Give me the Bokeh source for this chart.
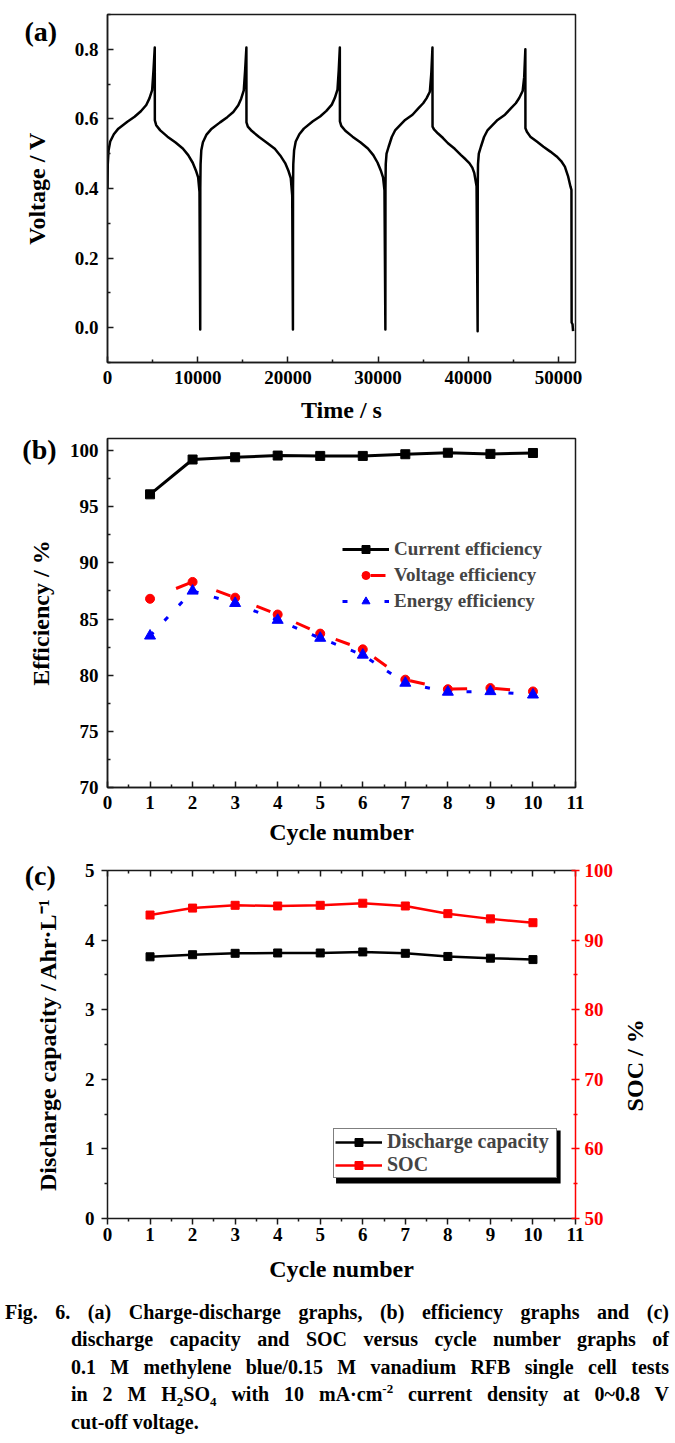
import math
from bokeh.plotting import figure
from bokeh.models import (Range1d, LinearAxis, FixedTicker, Legend, LegendItem, Label, Div,
                          CustomJSTickFormatter, PrintfTickFormatter, BoxAnnotation)
from bokeh.layouts import column
from bokeh.embed import file_html
from bokeh.resources import INLINE

FONT = "Liberation Serif"
AX = "#1a1a1a"

# ---------------- data ----------------
# (a) charge-discharge curve
time_s = [
    0, 30, 120, 300, 700, 1200, 2200, 3000, 3700, 4300, 4650, 4950, 5100, 5240,
    5250, 5400, 5850, 6650, 7550, 8350, 8950, 9450, 9800, 10050, 10200, 10280,
    10290, 10320, 10400, 10580, 10980, 11480, 12480, 13280, 13950, 14500, 14820, 15110, 15260, 15400,
    15410, 15560, 16010, 16810, 17710, 18550, 19150, 19700, 20060, 20320, 20480, 20560,
    20570, 20600, 20690, 20870, 21270, 21770, 22770, 23570, 24270, 24870, 25200, 25500, 25640, 25760,
    25770, 25920, 26370, 27170, 28070, 28870, 29470, 29950, 30300, 30550, 30710, 30810,
    30820, 30850, 30940, 31170, 31520, 31910, 33000, 33820, 34460, 35000, 35370, 35740, 35900, 36030,
    36040, 36200, 36650, 37200, 37750, 38500, 39200, 39700, 40120, 40450, 40670, 40920, 41040,
    41050, 41080, 41170, 41400, 41750, 42150, 43250, 44070, 44720, 45270, 45650, 46030, 46200, 46330,
    46340, 46500, 46880, 47600, 48340, 49100, 49800, 50300, 50710, 51080, 51330, 51440, 51460, 51560, 51620,
]
voltage_v = [
    0.40, 0.47, 0.51, 0.535, 0.556, 0.572, 0.592, 0.606, 0.622, 0.640, 0.659, 0.683, 0.74, 0.805,
    0.596, 0.582, 0.567, 0.549, 0.532, 0.515, 0.496, 0.474, 0.452, 0.432, 0.39, -0.005,
    0.40, 0.47, 0.51, 0.533, 0.555, 0.570, 0.590, 0.605, 0.620, 0.639, 0.658, 0.682, 0.74, 0.805,
    0.590, 0.578, 0.565, 0.548, 0.531, 0.514, 0.495, 0.473, 0.451, 0.43, 0.38, -0.005,
    0.40, 0.47, 0.51, 0.535, 0.556, 0.572, 0.593, 0.607, 0.623, 0.641, 0.660, 0.684, 0.74, 0.805,
    0.593, 0.580, 0.566, 0.549, 0.532, 0.515, 0.496, 0.474, 0.452, 0.432, 0.395, -0.005,
    0.40, 0.47, 0.50, 0.52, 0.548, 0.568, 0.597, 0.612, 0.630, 0.645, 0.659, 0.678, 0.73, 0.805,
    0.578, 0.570, 0.558, 0.545, 0.530, 0.514, 0.496, 0.484, 0.473, 0.460, 0.444, 0.406, -0.01,
    0.40, 0.47, 0.50, 0.52, 0.548, 0.568, 0.597, 0.612, 0.630, 0.645, 0.660, 0.680, 0.72, 0.80,
    0.573, 0.563, 0.549, 0.535, 0.520, 0.506, 0.492, 0.479, 0.463, 0.434, 0.406, 0.396, 0.015, 0.01, -0.01,
]

# (b) efficiencies
cycles = [1, 2, 3, 4, 5, 6, 7, 8, 9, 10]
current_eff = [96.1, 99.2, 99.4, 99.55, 99.52, 99.52, 99.67, 99.8, 99.7, 99.78]
voltage_eff = [86.8, 88.3, 86.9, 85.4, 83.7, 82.3, 79.6, 78.75, 78.85, 78.55]
energy_eff = [83.5, 87.5, 86.4, 84.9, 83.3, 81.8, 79.3, 78.5, 78.55, 78.25]

# (c) discharge capacity and SOC
discharge_capacity = [3.76, 3.79, 3.81, 3.815, 3.815, 3.83, 3.81, 3.765, 3.74, 3.72]
soc = [93.6, 94.6, 95.0, 94.9, 95.0, 95.3, 94.9, 93.8, 93.05, 92.5]

# ticks
time_ticks = [0, 10000, 20000, 30000, 40000, 50000]
time_minor = [5000, 15000, 25000, 35000, 45000]
volt_ticks = [0.0, 0.2, 0.4, 0.6, 0.8]
volt_minor = [-0.1, 0.1, 0.3, 0.5, 0.7, 0.9]
cycle_ticks = [0, 1, 2, 3, 4, 5, 6, 7, 8, 9, 10, 11]
cycle_minor = [0.5, 1.5, 2.5, 3.5, 4.5, 5.5, 6.5, 7.5, 8.5, 9.5, 10.5]
eff_ticks = [70, 75, 80, 85, 90, 95, 100]
eff_minor = [72.5, 77.5, 82.5, 87.5, 92.5, 97.5]
cap_ticks = [0, 1, 2, 3, 4, 5]
cap_minor = [0.5, 1.5, 2.5, 3.5, 4.5]
soc_ticks = [50, 60, 70, 80, 90, 100]
soc_minor = [55, 65, 75, 85, 95]

caption_lines = [
    "Fig. 6. (a) Charge-discharge graphs, (b) efficiency graphs and (c)",
    "discharge capacity and SOC versus cycle number graphs of",
    "0.1 M methylene blue/0.15 M vanadium RFB single cell tests",
    "in 2 M H<sub>2</sub>SO<sub>4</sub> with 10 mA&middot;cm<sup>-2</sup> current density at 0~0.8 V",
    "cut-off voltage.",
]

W = 667


def style(ax, color=AX, text_color="black"):
    ax.axis_line_color = color
    ax.axis_line_width = 1.5
    ax.major_tick_line_color = color
    ax.major_tick_line_width = 1.5
    ax.minor_tick_line_color = color
    ax.minor_tick_line_width = 1.5
    ax.major_label_text_font = FONT
    ax.major_label_text_font_style = "bold"
    ax.major_label_text_font_size = "19px"
    ax.major_label_text_color = text_color
    ax.axis_label_text_font = FONT
    ax.axis_label_text_font_style = "bold"
    ax.axis_label_text_font_size = "24px"
    ax.axis_label_text_color = "black"


def ticks(ax, tin, tout, mtin, mtout):
    ax.major_tick_in = tin
    ax.major_tick_out = tout
    ax.minor_tick_in = mtin
    ax.minor_tick_out = mtout


def panel_label(p, text, x, y, side):
    p.add_layout(Label(x=x, y=y, text=text, text_font=FONT, text_font_style="bold",
                       text_font_size="28px", text_align="center", text_baseline="middle",
                       text_color="black"), side)


# ---------------- (a) ----------------
p1 = figure(width=W, height=429, x_range=Range1d(0, 51890), y_range=Range1d(-0.1, 0.9),
            output_backend="svg", toolbar_location=None,
            min_border_left=102, min_border_right=92, min_border_top=14, min_border_bottom=67)
p1.line(time_s, voltage_v, line_color="black", line_width=2.5, line_join="round")
p1.xgrid.visible = False
p1.ygrid.visible = False
p1.outline_line_color = AX
p1.outline_line_width = 1.5
xa = p1.xaxis[0]
ya = p1.yaxis[0]
style(xa); style(ya)
xa.ticker = FixedTicker(ticks=time_ticks, minor_ticks=time_minor)
ya.ticker = FixedTicker(ticks=volt_ticks, minor_ticks=volt_minor)
xa.formatter = PrintfTickFormatter(format="%d")
ya.formatter = PrintfTickFormatter(format="%.1f")
ticks(xa, 6, 0, 3, 0); ticks(ya, 6, 0, 3, 0)
xa.major_label_standoff = 8
ya.major_label_standoff = 9
xa.axis_label = "Time / s"
ya.axis_label = "Voltage / V"
xa.axis_label_standoff = 10
ya.axis_label_standoff = 22
panel_label(p1, "(a)", -7400, 0.852, "right")

# ---------------- (b) ----------------
p2 = figure(width=W, height=421, x_range=Range1d(0, 11), y_range=Range1d(70, 101.07),
            output_backend="svg", toolbar_location=None,
            min_border_left=102, min_border_right=92, min_border_top=9, min_border_bottom=63)
p2.xgrid.visible = False
p2.ygrid.visible = False
p2.outline_line_color = AX
p2.outline_line_width = 1.5
l1 = p2.line(cycles, current_eff, line_color="black", line_width=3)
s1 = p2.scatter(cycles, current_eff, marker="square", size=9, color="black")
l2 = p2.line(cycles, voltage_eff, line_color="#ff0000", line_width=3,
             line_dash="15 28", line_dash_offset=15)
s2 = p2.scatter(cycles, voltage_eff, marker="circle", size=9, color="#ff0000")
l3 = p2.line(cycles, energy_eff, line_color="#0000ff", line_width=3, line_dash="5 16")
s3 = p2.scatter(cycles, energy_eff, marker="triangle", size=11, color="#0000ff")
xb = p2.xaxis[0]
yb = p2.yaxis[0]
style(xb); style(yb)
xb.ticker = FixedTicker(ticks=cycle_ticks, minor_ticks=cycle_minor)
yb.ticker = FixedTicker(ticks=eff_ticks, minor_ticks=eff_minor)
ticks(xb, 6, 0, 3, 0); ticks(yb, 6, 0, 3, 0)
xb.major_label_standoff = 8
yb.major_label_standoff = 9
xb.axis_label = "Cycle number"
yb.axis_label = "Efficiency / %"
xb.axis_label_standoff = 7
yb.axis_label_standoff = 13
leg_b = Legend(items=[LegendItem(label="Current efficiency", renderers=[l1, s1]),
                      LegendItem(label="Voltage efficiency", renderers=[l2, s2]),
                      LegendItem(label="Energy efficiency", renderers=[l3, s3])],
               location=(235, 175), border_line_color=None, background_fill_alpha=0,
               padding=0, margin=0, spacing=4, glyph_width=47, glyph_height=20,
               label_height=20, label_standoff=5, label_text_font=FONT,
               label_text_font_style="bold", label_text_font_size="19px")
p2.add_layout(leg_b)
panel_label(p2, "(b)", -1.6, 100.1, "right")

# ---------------- (c) ----------------
p3 = figure(width=W, height=438, x_range=Range1d(0, 11), y_range=Range1d(0, 5),
            output_backend="svg", toolbar_location=None,
            min_border_left=102, min_border_right=92, min_border_top=20, min_border_bottom=70)
p3.extra_y_ranges = {"soc": Range1d(50, 100)}
p3.xgrid.visible = False
p3.ygrid.visible = False
p3.outline_line_color = None
l4 = p3.line(cycles, discharge_capacity, line_color="black", line_width=2.5)
s4 = p3.scatter(cycles, discharge_capacity, marker="square", size=8, color="black")
l5 = p3.line(cycles, soc, line_color="#ff0000", line_width=2.5, y_range_name="soc")
s5 = p3.scatter(cycles, soc, marker="square", size=8, color="#ff0000", y_range_name="soc")
xc = p3.xaxis[0]
yc = p3.yaxis[0]
style(xc); style(yc)
xc.ticker = FixedTicker(ticks=cycle_ticks, minor_ticks=cycle_minor)
yc.ticker = FixedTicker(ticks=cap_ticks, minor_ticks=cap_minor)
ticks(xc, 0, 6, 0, 3); ticks(yc, 0, 6, 0, 3)
xc.major_label_standoff = 3
yc.major_label_standoff = 7
xc.axis_label = "Cycle number"
yc.axis_label = "Discharge capacity / Ahr\u00b7L\u207b\u00b9"
xc.axis_label_standoff = 12
yc.axis_label_standoff = 21

top = LinearAxis(ticker=FixedTicker(ticks=cycle_ticks, minor_ticks=cycle_minor),
                 formatter=CustomJSTickFormatter(code="return ''"))
style(top)
top.major_label_text_font_size = "1px"
top.major_label_standoff = 0
ticks(top, 6, 0, 3, 0)
p3.add_layout(top, "above")

right = LinearAxis(y_range_name="soc", ticker=FixedTicker(ticks=soc_ticks, minor_ticks=soc_minor))
style(right, color="#ff0000", text_color="#ff0000")
ticks(right, 4, 4, 2, 2)
right.major_label_standoff = 5
p3.add_layout(right, "right")

p3.add_layout(Label(x=12.4, y=72, y_range_name="soc", text="SOC / %", angle=math.pi / 2,
                    text_font=FONT, text_font_style="bold", text_font_size="24px",
                    text_align="center", text_baseline="middle", text_color="black"), "right")

p3.add_layout(BoxAnnotation(left=5.372, right=10.65, bottom=0.503, top=1.264,
                            fill_color="black", fill_alpha=1.0, line_color=None))
leg_c = Legend(items=[LegendItem(label="Discharge capacity", renderers=[l4, s4]),
                      LegendItem(label="SOC", renderers=[l5, s5])],
               location=(226, 40), border_line_color="black", border_line_width=1.5,
               background_fill_color="white", background_fill_alpha=1.0,
               padding=1, margin=0, spacing=0, glyph_width=47, glyph_height=20,
               label_height=20, label_width=168, label_standoff=5, label_text_font=FONT,
               label_text_font_style="bold", label_text_font_size="20px")
p3.add_layout(leg_c)
panel_label(p3, "(c)", -1.58, 4.93, "left")

# ---------------- caption ----------------
just = "text-align:justify; text-align-last:justify;"
rows = []
for i, line in enumerate(caption_lines):
    st = "" if i == 0 else "padding-left:66px;"
    if i < len(caption_lines) - 1:
        st += just
    rows.append('<div style="%s white-space:nowrap;">%s</div>' % (st, line))
html = ('<div style="font-family:\'Liberation Serif\'; font-weight:bold; font-size:20px; '
        'line-height:27.4px; color:#000; width:664px; padding-top:6px;">'
        '<style>sub,sup{font-size:13px; line-height:0;}</style>' + "".join(rows) + '</div>')
cap = Div(text=html, width=W, height=151)

layout = column(p1, p2, p3, cap)
open("out.html", "w").write(file_html(layout, INLINE))
